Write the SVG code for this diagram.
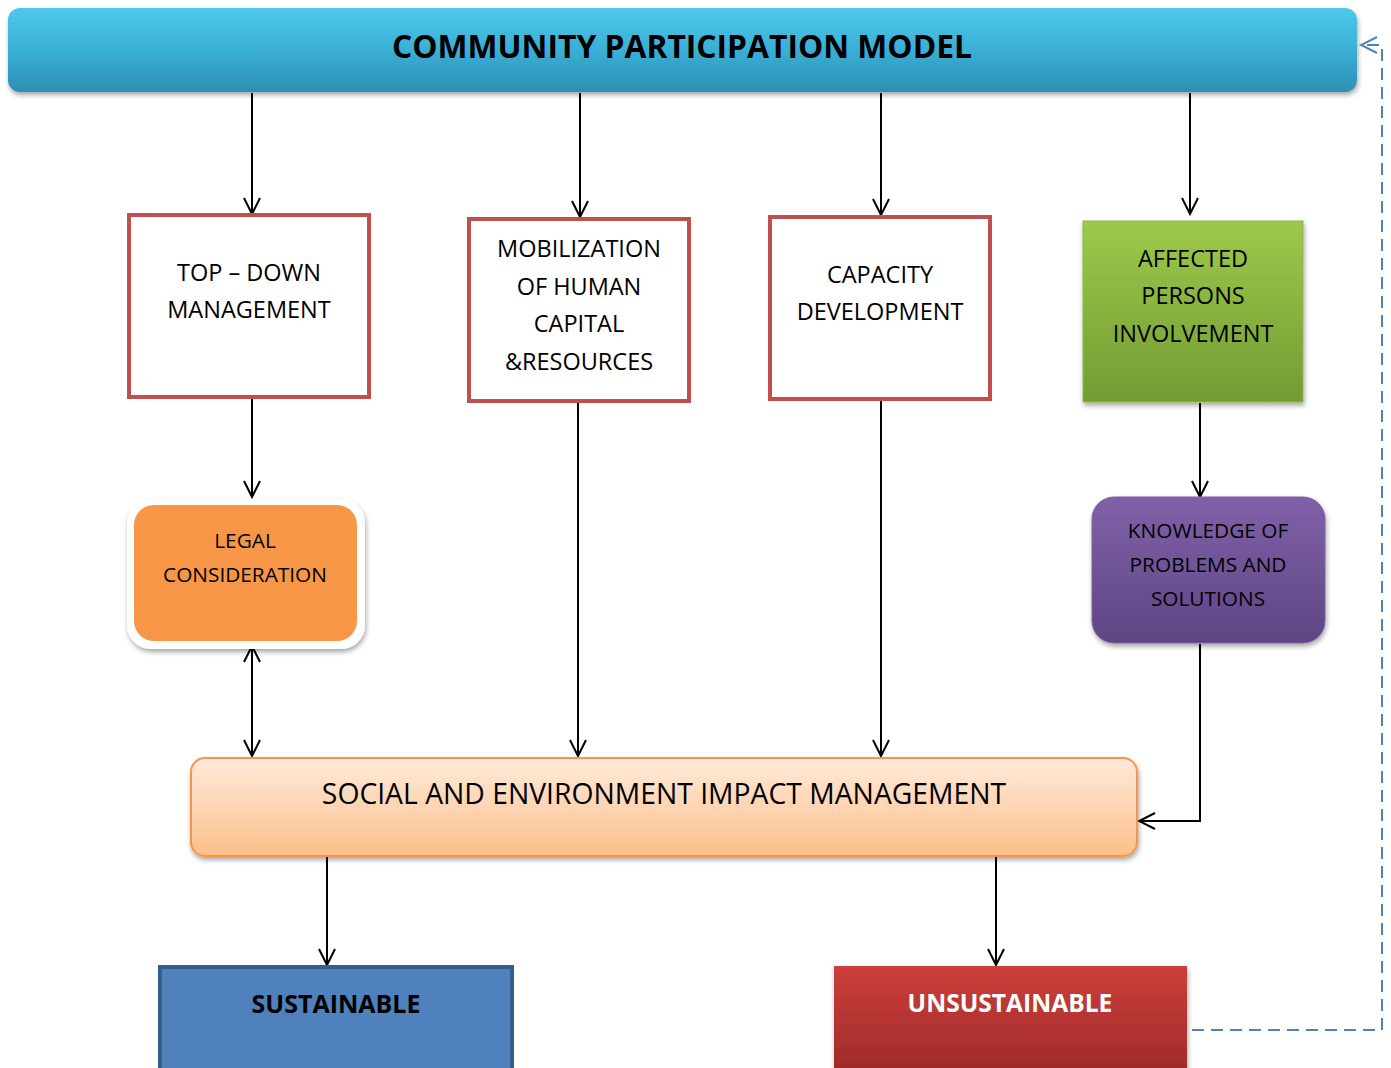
<svg xmlns="http://www.w3.org/2000/svg" width="1391" height="1068" viewBox="0 0 1391 1068">
<defs>
<linearGradient id="gTop" x1="0" y1="0" x2="0" y2="1">
<stop offset="0" stop-color="#4fc9ea"/><stop offset="0.5" stop-color="#3aafd5"/><stop offset="1" stop-color="#2e8fb3"/>
</linearGradient>
<linearGradient id="gGreen" x1="0" y1="0" x2="0" y2="1">
<stop offset="0" stop-color="#9dc94b"/><stop offset="1" stop-color="#729c32"/>
</linearGradient>
<linearGradient id="gPurple" x1="0" y1="0" x2="0" y2="1">
<stop offset="0" stop-color="#8061a8"/><stop offset="1" stop-color="#5e4584"/>
</linearGradient>
<linearGradient id="gPeach" x1="0" y1="0" x2="0" y2="1">
<stop offset="0" stop-color="#ffeadb"/><stop offset="1" stop-color="#fcbf8a"/>
</linearGradient>
<linearGradient id="gRed" x1="0" y1="0" x2="0" y2="1">
<stop offset="0" stop-color="#cd3f3c"/><stop offset="1" stop-color="#9c2a28"/>
</linearGradient>
<filter id="sh" x="-10%" y="-10%" width="120%" height="130%">
<feDropShadow dx="1" dy="3" stdDeviation="2.5" flood-color="#000" flood-opacity="0.35"/>
</filter>
<marker id="ah" viewBox="0 0 20 20" refX="18" refY="10" markerWidth="20" markerHeight="20" markerUnits="userSpaceOnUse" orient="auto-start-reverse">
<path d="M2,2 L18,10 L2,18" fill="none" stroke="#000" stroke-width="2"/>
</marker>
<marker id="ahb" viewBox="0 0 20 20" refX="18" refY="10" markerWidth="20" markerHeight="20" markerUnits="userSpaceOnUse" orient="auto">
<path d="M2,2 L18,10 L2,18" fill="none" stroke="#4f81bd" stroke-width="2"/>
</marker>
</defs>
<style>
.t{font-family:"Open Sans","Liberation Sans",sans-serif;font-size:23.5px;fill:#000;text-anchor:middle}
.s{font-size:20.8px}
.b{font-weight:bold}
.red{fill:#fff;stroke:#c0504d;stroke-width:4}
.c{fill:none;stroke:#000;stroke-width:2}
</style>
<rect width="1391" height="1068" fill="#fff"/>

<g id="connectors">
<line class="c" x1="252" y1="93" x2="252" y2="214" marker-end="url(#ah)"/>
<line class="c" x1="580" y1="93" x2="580" y2="217" marker-end="url(#ah)"/>
<line class="c" x1="881" y1="93" x2="881" y2="215" marker-end="url(#ah)"/>
<line class="c" x1="1190" y1="93" x2="1190" y2="214" marker-end="url(#ah)"/>
<line class="c" x1="252" y1="398" x2="252" y2="497" marker-end="url(#ah)"/>
<line class="c" x1="252" y1="646" x2="252" y2="756" marker-start="url(#ah)" marker-end="url(#ah)"/>
<line class="c" x1="578" y1="402" x2="578" y2="756" marker-end="url(#ah)"/>
<line class="c" x1="881" y1="400" x2="881" y2="756" marker-end="url(#ah)"/>
<line class="c" x1="1200" y1="403" x2="1200" y2="497" marker-end="url(#ah)"/>
<polyline class="c" points="1200,644 1200,821 1139,821" marker-end="url(#ah)"/>
<line class="c" x1="327" y1="857" x2="327" y2="965" marker-end="url(#ah)"/>
<line class="c" x1="996" y1="857" x2="996" y2="965" marker-end="url(#ah)"/>
<polyline points="1192,1030 1382,1030 1382,45 1361,45" fill="none" stroke="#4f81bd" stroke-width="2" stroke-dasharray="12,7" marker-end="url(#ahb)"/>
</g>

<g id="top">
<rect x="8" y="8" width="1349" height="84" rx="12" fill="url(#gTop)" filter="url(#sh)"/>
<text class="t b" x="682" y="58" style="font-size:31.8px">COMMUNITY PARTICIPATION MODEL</text>
</g>

<g id="topdown">
<rect class="red" x="129" y="215" width="240" height="182"/>
<text class="t" x="249" y="281">TOP – DOWN</text>
<text class="t" x="249" y="318">MANAGEMENT</text>
</g>

<g id="mobilization">
<rect class="red" x="469" y="219" width="220" height="182"/>
<text class="t" x="579" y="257">MOBILIZATION</text>
<text class="t" x="579" y="295">OF HUMAN</text>
<text class="t" x="579" y="332">CAPITAL</text>
<text class="t" x="579" y="370">&amp;RESOURCES</text>
</g>

<g id="capacity">
<rect class="red" x="770" y="217" width="220" height="182"/>
<text class="t" x="880" y="283">CAPACITY</text>
<text class="t" x="880" y="320">DEVELOPMENT</text>
</g>

<g id="affected">
<rect x="1083" y="221" width="220" height="181" fill="url(#gGreen)" stroke="#8db746" stroke-width="1" filter="url(#sh)"/>
<text class="t" x="1193" y="267">AFFECTED</text>
<text class="t" x="1193" y="304">PERSONS</text>
<text class="t" x="1193" y="342">INVOLVEMENT</text>
</g>

<g id="legal">
<rect x="127" y="499" width="238" height="150" rx="24" fill="#fff" filter="url(#sh)"/>
<rect x="134" y="505" width="223" height="136" rx="20" fill="#f79646"/>
<text class="t s" x="245" y="548">LEGAL</text>
<text class="t s" x="245" y="582">CONSIDERATION</text>
</g>

<g id="knowledge">
<rect x="1092" y="497" width="233" height="146" rx="22" fill="url(#gPurple)" stroke="#7a62a0" stroke-width="1" filter="url(#sh)"/>
<text class="t s" x="1208" y="538">KNOWLEDGE OF</text>
<text class="t s" x="1208" y="572">PROBLEMS AND</text>
<text class="t s" x="1208" y="606">SOLUTIONS</text>
</g>

<g id="social">
<rect x="191" y="758" width="946" height="98" rx="14" fill="url(#gPeach)" stroke="#f79646" stroke-width="2" filter="url(#sh)"/>
<text class="t" x="664" y="804" style="font-size:28.3px">SOCIAL AND ENVIRONMENT IMPACT MANAGEMENT</text>
</g>

<g id="sustainable">
<rect x="160" y="967" width="352" height="110" fill="#4f81bd" stroke="#385d8a" stroke-width="4"/>
<text class="t b" x="336" y="1013" style="font-size:25px">SUSTAINABLE</text>
</g>

<g id="unsustainable">
<rect x="834" y="966" width="353" height="110" fill="url(#gRed)" filter="url(#sh)"/>
<text class="t b" x="1010" y="1012" style="font-size:24.6px;fill:#fff">UNSUSTAINABLE</text>
</g>
</svg>
